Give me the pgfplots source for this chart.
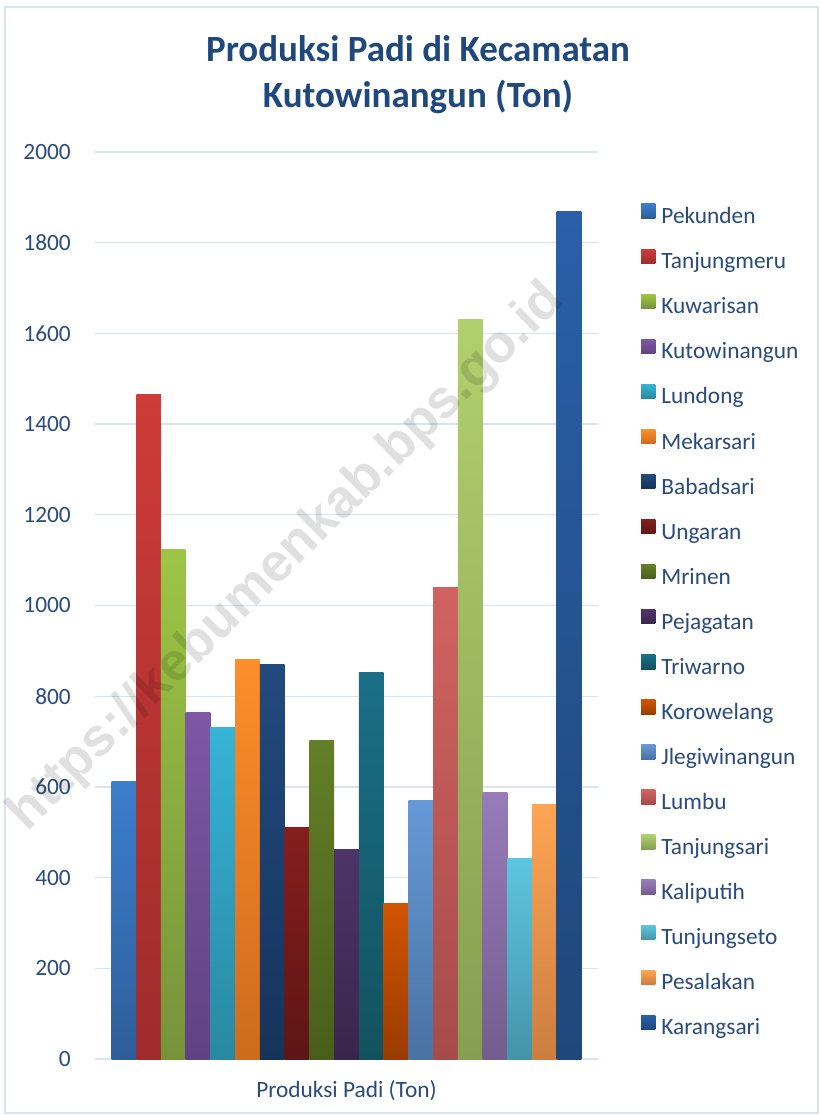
\documentclass[border=0pt]{standalone}
\usepackage{pgfplots}
\pgfplotsset{compat=1.18}
\usepackage{fontspec}
\setmainfont{Carlito}
\newfontfamily\wmfont{Liberation Sans}

\definecolor{ttl}{HTML}{1F497D}
\definecolor{tck}{HTML}{2A4B7C}
\definecolor{grd}{HTML}{D9E4F1}
\definecolor{brd}{HTML}{D9E3F0}

\begin{document}
\begin{tikzpicture}
\path[use as bounding box] (-71.25pt,-42pt) rectangle (544.5pt,794.25pt);
\fill[white] (-71.25pt,-42pt) rectangle (544.5pt,794.25pt);
\draw[brd, line width=1.2pt] (-67.5pt,-40.5pt) rectangle (542.25pt,789pt);

\begin{axis}[
  at={(0pt,0pt)}, anchor=south west,
  scale only axis,
  width=377.25pt, height=680.25pt,
  xmin=-1, xmax=1,
  ymin=0, ymax=2000,
  ytick={0,200,...,2000},
  xtick=\empty,
  ybar=0pt,
  bar width=18.55pt,
  ymajorgrids,
  grid style={grd, line width=1pt},
  axis line style={draw=none},
  major tick length=0pt,
  tick style={draw=none},
  /pgf/number format/1000 sep={},
  /pgf/number format/assume math mode=true,
  yticklabel style={font=\fontsize{17.5}{21}\selectfont, text=tck, inner sep=0pt, anchor=east, xshift=-18pt},
  xlabel={Produksi Padi (Ton)},
  xlabel style={font=\fontsize{17.5}{21}\selectfont, text=tck, at={(axis description cs:0.5,0)}, anchor=base, yshift=-28.5pt, inner sep=0pt},
  legend image code/.code={\path[#1, draw=none] (0pt,0pt) rectangle (10.8pt,10.8pt);},
  legend cell align=left,
  legend style={at={(1.0855,0.9427)}, anchor=north west, draw=none, fill=none,
    inner sep=0pt, outer sep=0pt, row sep=15pt, column sep=4.5pt,
    nodes={inner sep=0pt, text height=12pt, text depth=4pt, font=\fontsize{17.5}{21}\selectfont, text=tck}},
]
\addplot[draw=none, top color={rgb,255:red,60;green,126;blue,205}, bottom color={rgb,255:red,46;green,94;blue,154}] coordinates {(0,611)};
\addlegendentry{Pekunden}
\addplot[draw=none, top color={rgb,255:red,206;green,59;blue,56}, bottom color={rgb,255:red,158;green,44;blue,43}] coordinates {(0,1466)};
\addlegendentry{Tanjungmeru}
\addplot[draw=none, top color={rgb,255:red,157;green,197;blue,69}, bottom color={rgb,255:red,118;green,147;blue,58}] coordinates {(0,1124)};
\addlegendentry{Kuwarisan}
\addplot[draw=none, top color={rgb,255:red,126;green,87;blue,165}, bottom color={rgb,255:red,96;green,66;blue,131}] coordinates {(0,763)};
\addlegendentry{Kutowinangun}
\addplot[draw=none, top color={rgb,255:red,54;green,179;blue,214}, bottom color={rgb,255:red,42;green,136;blue,162}] coordinates {(0,732)};
\addlegendentry{Lundong}
\addplot[draw=none, top color={rgb,255:red,253;green,142;blue,42}, bottom color={rgb,255:red,205;green,107;blue,30}] coordinates {(0,880)};
\addlegendentry{Mekarsari}
\addplot[draw=none, top color={rgb,255:red,33;green,74;blue,126}, bottom color={rgb,255:red,22;green,51;blue,91}] coordinates {(0,871)};
\addlegendentry{Babadsari}
\addplot[draw=none, top color={rgb,255:red,133;green,30;blue,29}, bottom color={rgb,255:red,94;green,21;blue,21}] coordinates {(0,511)};
\addlegendentry{Ungaran}
\addplot[draw=none, top color={rgb,255:red,99;green,127;blue,39}, bottom color={rgb,255:red,74;green,94;blue,28}] coordinates {(0,703)};
\addlegendentry{Mrinen}
\addplot[draw=none, top color={rgb,255:red,78;green,52;blue,105}, bottom color={rgb,255:red,56;green,38;blue,75}] coordinates {(0,463)};
\addlegendentry{Pejagatan}
\addplot[draw=none, top color={rgb,255:red,26;green,111;blue,135}, bottom color={rgb,255:red,18;green,82;blue,95}] coordinates {(0,853)};
\addlegendentry{Triwarno}
\addplot[draw=none, top color={rgb,255:red,209;green,84;blue,0}, bottom color={rgb,255:red,154;green,60;blue,0}] coordinates {(0,342)};
\addlegendentry{Korowelang}
\addplot[draw=none, top color={rgb,255:red,102;green,153;blue,216}, bottom color={rgb,255:red,74;green,114;blue,162}] coordinates {(0,571)};
\addlegendentry{Jlegiwinangun}
\addplot[draw=none, top color={rgb,255:red,210;green,98;blue,96}, bottom color={rgb,255:red,165;green,76;blue,74}] coordinates {(0,1039)};
\addlegendentry{Lumbu}
\addplot[draw=none, top color={rgb,255:red,176;green,208;blue,109}, bottom color={rgb,255:red,134;green,158;blue,82}] coordinates {(0,1631)};
\addlegendentry{Tanjungsari}
\addplot[draw=none, top color={rgb,255:red,152;green,123;blue,186}, bottom color={rgb,255:red,116;green,93;blue,141}] coordinates {(0,588)};
\addlegendentry{Kaliputih}
\addplot[draw=none, top color={rgb,255:red,94;green,197;blue,225}, bottom color={rgb,255:red,68;green,148;blue,169}] coordinates {(0,443)};
\addlegendentry{Tunjungseto}
\addplot[draw=none, top color={rgb,255:red,254;green,165;blue,83}, bottom color={rgb,255:red,203;green,126;blue,64}] coordinates {(0,562)};
\addlegendentry{Pesalakan}
\addplot[draw=none, top color={rgb,255:red,41;green,96;blue,168}, bottom color={rgb,255:red,31;green,71;blue,122}] coordinates {(0,1869)};
\addlegendentry{Karangsari}
\end{axis}

\node[anchor=base, text=ttl, font=\fontsize{27.75}{34}\selectfont\bfseries] at (242.25pt,747.75pt) {Produksi Padi di Kecamatan};
\node[anchor=base, text=ttl, font=\fontsize{27.75}{34}\selectfont\bfseries] at (242.25pt,713.25pt) {Kutowinangun (Ton)};

\node[rotate=44.5, text=black, text opacity=0.12, font=\wmfont\bfseries\fontsize{40}{48}\selectfont, inner sep=0pt] at (144pt,376pt) {https://kebumenkab.bps.go.id};
\end{tikzpicture}
\end{document}
